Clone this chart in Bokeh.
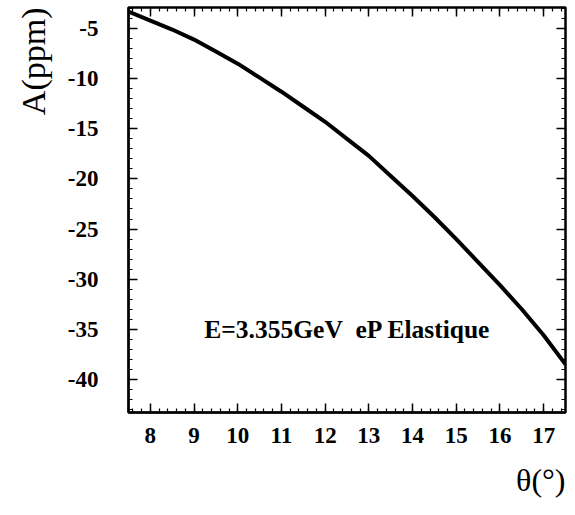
from bokeh.plotting import figure
from bokeh.models import LinearAxis, Label, FixedTicker, Range1d, Title, CustomJSTickFormatter
from bokeh.embed import file_html
from bokeh.resources import INLINE

# data
theta = [7.5, 8.0, 8.5, 9.0, 9.5, 10.0, 10.5, 11.0, 11.5, 12.0, 12.5, 13.0,
         13.5, 14.0, 14.5, 15.0, 15.5, 16.0, 16.5, 17.0, 17.5]
asym = [-3.3, -4.2, -5.1, -6.1, -7.3, -8.5, -9.9, -11.3, -12.8, -14.3, -16.0,
        -17.7, -19.7, -21.7, -23.8, -26.0, -28.3, -30.6, -33.0, -35.6, -38.5]
x_ticks = [8, 9, 10, 11, 12, 13, 14, 15, 16, 17]
y_ticks = [-5, -10, -15, -20, -25, -30, -35, -40]
y_tick_labels = ["-5", "-10", "-15", "-20", "-25", "-30", "-35", "-40"]
x_label = "θ(°)"
y_label = "A(ppm)"
note = "E=3.355GeV\u00a0 eP Elastique"

FONT = "Liberation Serif"

p = figure(width=575, height=515, output_backend="svg", toolbar_location=None,
           x_range=Range1d(7.5, 17.5), y_range=Range1d(-43.3, -2.9),
           min_border_left=127, min_border_right=10, min_border_top=7,
           min_border_bottom=103)
p.grid.visible = False
p.outline_line_color = "black"
p.outline_line_width = 2.5

p.line(theta, asym, line_color="black", line_width=4)

x_minor = [7.6 + 0.2 * i for i in range(50)]
y_minor = list(range(-43, -2))

def style(ax, labels=True):
    ax.axis_line_color = "black"
    ax.axis_line_width = 2
    ax.major_tick_in = 9
    ax.major_tick_out = 0
    ax.minor_tick_in = 4
    ax.minor_tick_out = 0
    ax.major_tick_line_width = 1.5
    ax.minor_tick_line_width = 1.2
    ax.major_label_text_font = FONT
    ax.major_label_text_font_style = "bold"
    ax.major_label_text_font_size = "23px"
    ax.major_label_text_color = "black"
    if not labels:
        ax.formatter = CustomJSTickFormatter(code="return ''")
        ax.major_label_standoff = 0
        ax.axis_line_color = None

xa = p.xaxis[0]
xa.ticker = FixedTicker(ticks=x_ticks, minor_ticks=x_minor)
style(xa)
xa.major_label_standoff = 15

ya = p.yaxis[0]
ya.ticker = FixedTicker(ticks=y_ticks, minor_ticks=y_minor)
ya.major_label_overrides = {v: s for v, s in zip(y_ticks, y_tick_labels)}
style(ya)
ya.major_label_standoff = 30

top = LinearAxis(ticker=FixedTicker(ticks=x_ticks, minor_ticks=x_minor))
style(top, labels=False)
p.add_layout(top, "above")
right = LinearAxis(ticker=FixedTicker(ticks=y_ticks, minor_ticks=y_minor))
style(right, labels=False)
p.add_layout(right, "right")

p.add_layout(Label(x=9.235, y=-35, text=note, text_font=FONT,
                   text_font_style="bold", text_font_size="25.5px",
                   text_baseline="middle", text_align="left", text_color="black"))

p.add_layout(Title(text=y_label, align="right", text_font=FONT,
                   text_font_size="34px", text_font_style="normal",
                   standoff=25, text_color="black"), "left")
p.add_layout(Title(text=x_label, align="right", text_font=FONT,
                   text_font_size="32px", text_font_style="normal",
                   standoff=28, text_color="black"), "below")

open("out.html", "w").write(file_html(p, INLINE))
